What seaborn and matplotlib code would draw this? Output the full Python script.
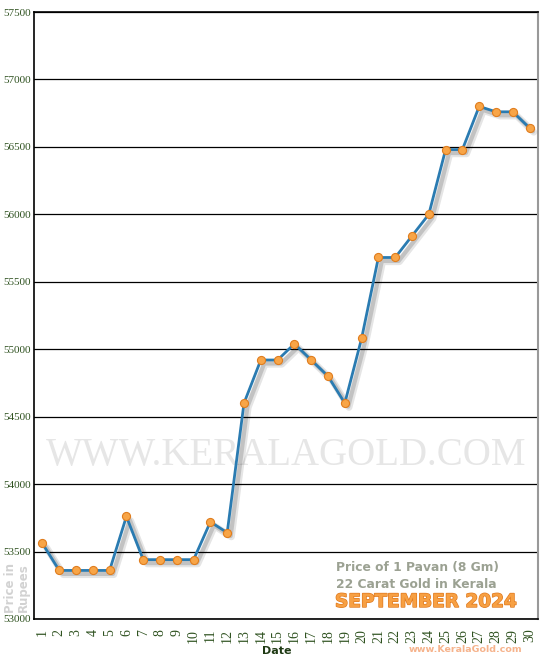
import matplotlib
matplotlib.use("Agg")
import matplotlib.pyplot as plt
import matplotlib.patheffects as pe
import numpy as np
import pandas as pd
import seaborn as sns

# ---- data ----
days = list(range(1, 31))
prices = [53560, 53360, 53360, 53360, 53360, 53760, 53440, 53440, 53440, 53440,
          53720, 53640, 54600, 54920, 54920, 55040, 54920, 54800, 54600, 55080,
          55680, 55680, 55840, 56000, 56480, 56480, 56800, 56760, 56760, 56640]
y_ticks = [53000, 53500, 54000, 54500, 55000, 55500, 56000, 56500, 57000, 57500]
title_lines = ["Price of 1 Pavan (8 Gm)", "22 Carat Gold in Kerala"]
month_label = "SEPTEMBER 2024"

sns.set_theme(style="white")

fig = plt.figure(figsize=(5.5, 6.6), dpi=100)
fig.patch.set_facecolor("white")
ax = fig.add_axes([34 / 550, 41 / 660, 504 / 550, 607 / 660])
ax.set_facecolor("white")

df = pd.DataFrame({"Date": days, "Price": prices})
# line with soft shadow
sns.lineplot(data=df, x="Date", y="Price", ax=ax, color="#2a7bb1", linewidth=2.0, zorder=5)
line = ax.lines[0]
line.set_path_effects([
    pe.SimpleLineShadow(offset=(3, -3), shadow_color="#000000", alpha=0.10, linewidth=5),
    pe.SimpleLineShadow(offset=(2.5, -2.5), shadow_color="#000000", alpha=0.15, linewidth=3),
    pe.Normal()])
# markers
sns.scatterplot(data=df, x="Date", y="Price", ax=ax, s=34, color="#f8a547",
                edgecolor="#e07d1e", linewidth=0.8, zorder=6, legend=False)

ax.set_xlim(0.5, 30.5)
ax.set_ylim(53000, 57500)
ax.set_yticks(y_ticks)
ax.set_yticklabels([str(v) for v in y_ticks], fontfamily="Liberation Serif",
                   fontsize=8, color="#2f5220")
ax.set_xticks(days)
ax.set_xticklabels([str(d) for d in days], rotation=90, fontfamily="Liberation Serif",
                   fontsize=10, color="#2f5220")
ax.set_xticks([d + 0.5 for d in days[:-1]], minor=True)
ax.tick_params(axis="x", which="major", length=0, pad=7)
ax.tick_params(axis="x", which="minor", length=4, width=1.2, color="#333333", direction="out")
ax.tick_params(axis="y", which="major", length=0, pad=2)

ax.yaxis.grid(True, color="black", linewidth=0.9)
ax.xaxis.grid(False)
ax.set_axisbelow(True)

for s in ["left", "bottom", "top"]:
    ax.spines[s].set_color("black")
    ax.spines[s].set_linewidth(1.2)
ax.spines["right"].set_color("#999999")
ax.spines["right"].set_linewidth(1.5)

ax.set_xlabel("")
ax.set_ylabel("")

# watermark
ax.text(0.5, 0.27, "WWW.KERALAGOLD.COM", transform=ax.transAxes, ha="center", va="center",
        fontfamily="Liberation Serif", fontsize=28, color="#e6e6e6", zorder=0)

# y-axis label
fig.text(17 / 550, 1 - 588 / 660, "Price in\nRupees", rotation=90, ha="center", va="center",
         fontsize=8.5, fontweight="bold", color="#d2d2d2", linespacing=1.0)

# info block
fig.text(336 / 550, 1 - 568 / 660, title_lines[0], ha="left", va="center",
         fontsize=8.8, fontweight="bold", color="#9ba192")
fig.text(336 / 550, 1 - 584 / 660, title_lines[1], ha="left", va="center",
         fontsize=8.8, fontweight="bold", color="#9ba192")
fig.text(335 / 550, 1 - 602 / 660, month_label, ha="left", va="center",
         fontsize=13.3, fontweight="bold", color="#f7a043",
         path_effects=[pe.withStroke(linewidth=1.0, foreground="#e07a20")])

# axis title and site
fig.text(277 / 550, 1 - 651 / 660, "Date", ha="center", va="center",
         fontsize=8, fontweight="bold", color="#1f3a14")
fig.text(522 / 550, 1 - 650 / 660, "www.KeralaGold.com", ha="right", va="center",
         fontsize=6.8, fontweight="bold", color="#f6b38c")

fig.savefig("out.png", dpi=100, facecolor="white")
